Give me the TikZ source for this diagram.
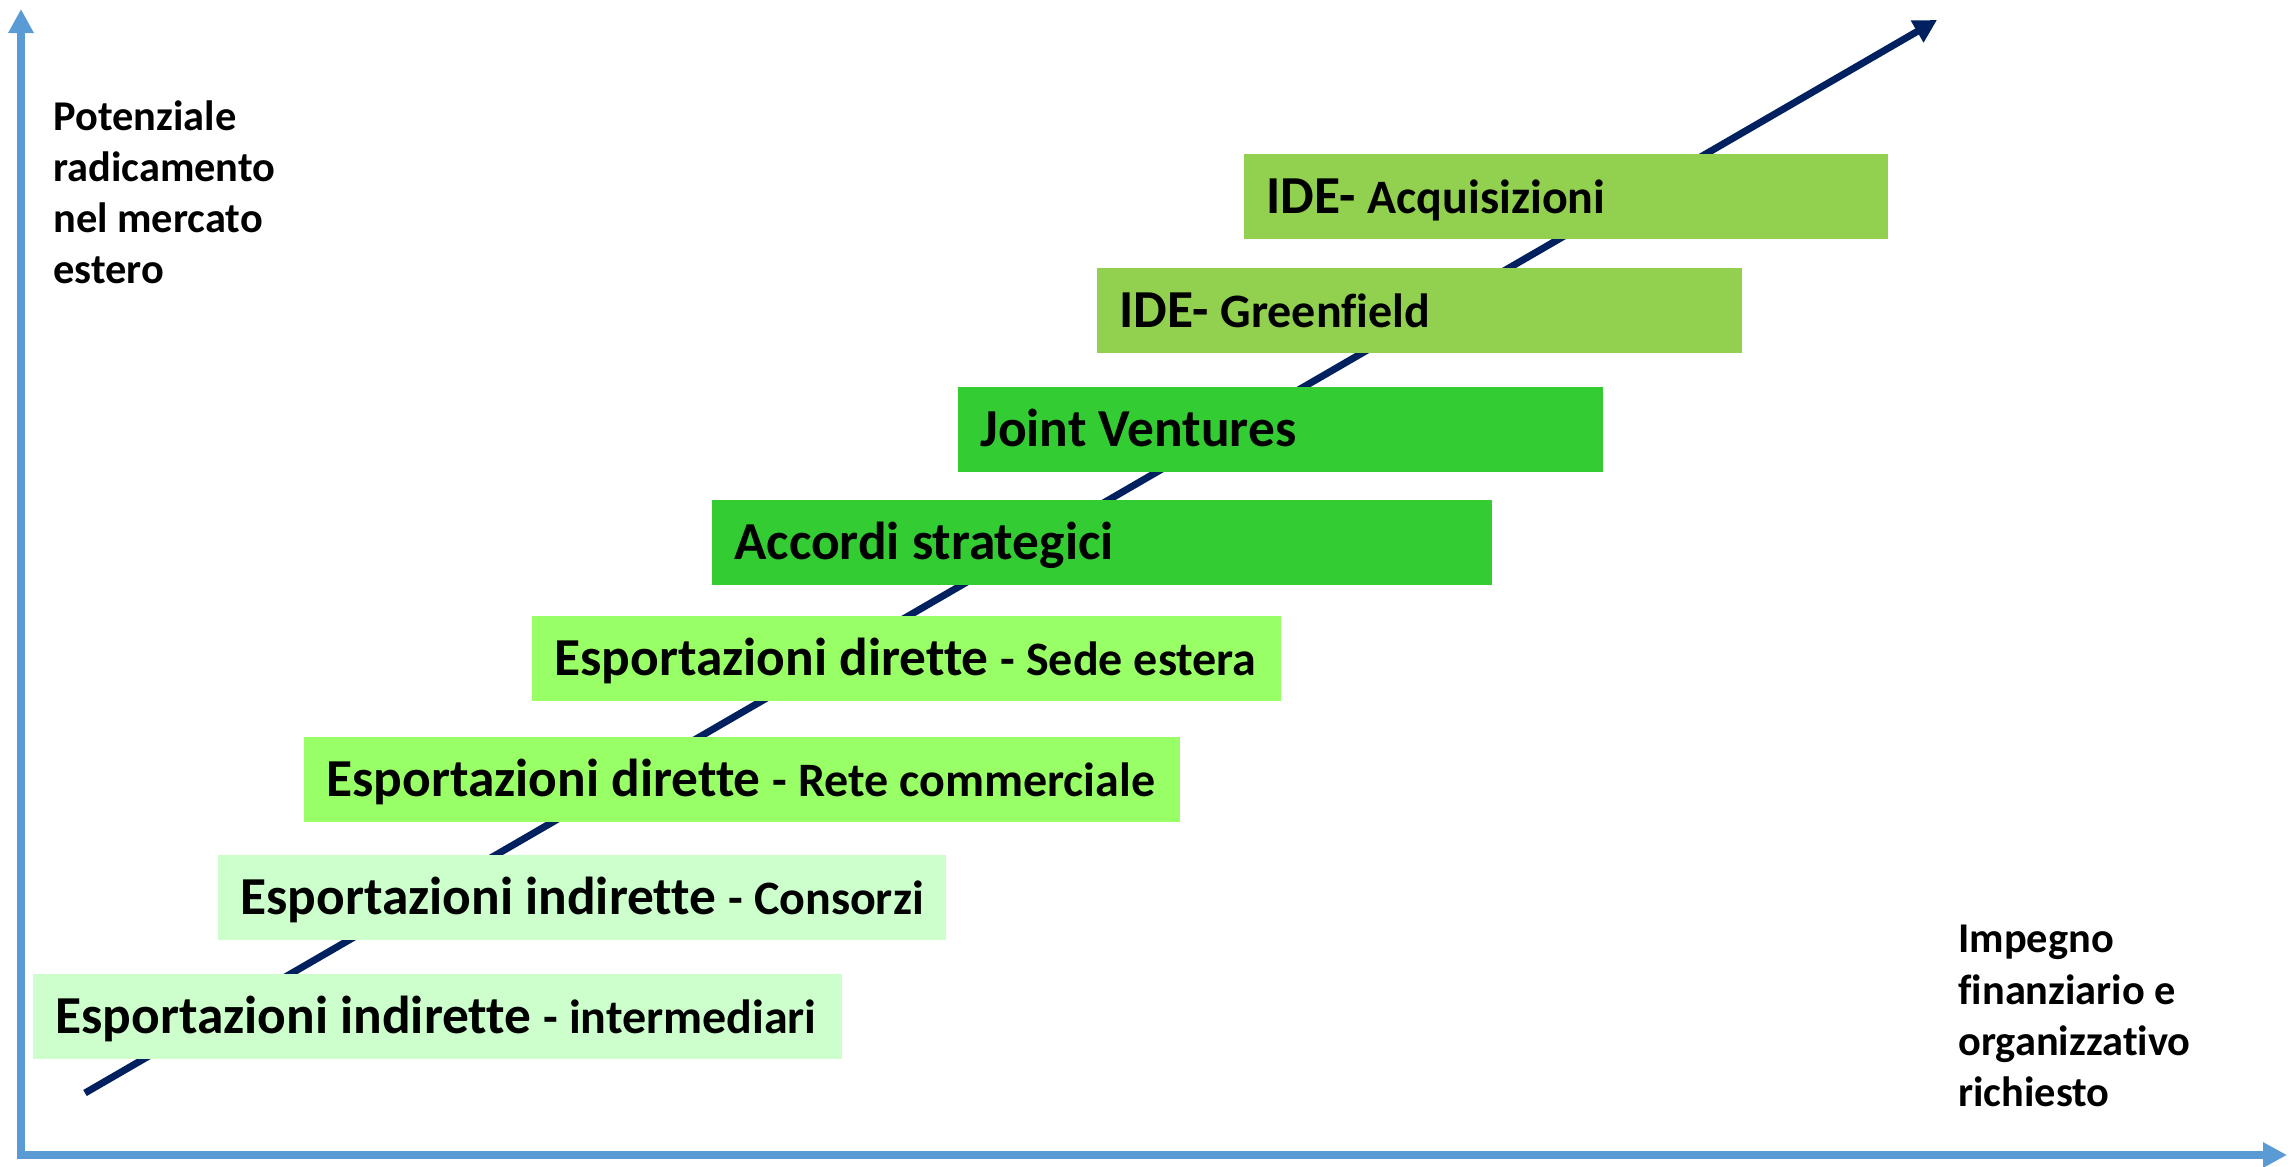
\documentclass[tikz,border=0pt]{standalone}
\usepackage{fontspec}
\setmainfont{Carlito}[Ligatures=NoCommon]
\usepackage{tikz}
\usetikzlibrary{positioning,arrows.meta}

\definecolor{axisblue}{HTML}{5B9BD5}
\definecolor{arrownavy}{HTML}{002060}
\definecolor{palegreen}{HTML}{CCFFCC}
\definecolor{limegreen}{HTML}{99FF66}
\definecolor{midgreen}{HTML}{33CC33}
\definecolor{olivegreen}{HTML}{92D050}

\newcommand{\sm}[1]{{\fontsize{24}{28}\selectfont #1}}

\begin{document}
\begin{tikzpicture}[x=0.5pt,y=-0.5pt,
    axis/.style={draw=axisblue,line width=4pt,-{Triangle[length=12pt,width=12pt]}},
    trend/.style={draw=arrownavy,line width=3.5pt,-{Triangle[length=11.5pt,width=12pt]}},
    stepbox/.style={rectangle,anchor=north west,inner xsep=11pt,inner ysep=0pt,
      minimum height=42.25pt,text height=17.2pt,text depth=0pt,align=left,
      execute at begin node={\spaceskip=0pt\xspaceskip=0pt},
      font=\bfseries\fontsize{26.7}{30}\selectfont},
    axislabel/.style={anchor=north west,inner sep=0pt,align=left,
      font=\bfseries\fontsize{21.2}{25.6}\selectfont}]
  \useasboundingbox (0,0) rectangle (2293,1167);
  % axes
  \coordinate (O) at (21,1155);
  \coordinate (ytop) at (21,9);
  \coordinate (xleft) at (17,1155);
  \coordinate (xtip) at (2287,1155);
  \draw[axis] (O) -- (ytop);
  \draw[axis] (xleft) -- (xtip);
  % rising arrow, under the boxes
  \coordinate (start) at (85,1093);
  \coordinate (end) at (1937,20);
  \draw[trend] (start) -- (end);
  % entry modes
  \node[stepbox,fill=palegreen,text width=382.5pt] (ei1) at (33,974)
    {\mbox{Esportazioni indirette \sm{- intermediari}}};
  \node[stepbox,fill=palegreen,text width=342pt] (ei2) at (218,855)
    {\mbox{Esportazioni indirette \sm{- Consorzi}}};
  \node[stepbox,fill=limegreen,text width=416pt] (ed1) at (304,737)
    {\mbox{Esportazioni dirette \sm{- Rete commerciale}}};
  \node[stepbox,fill=limegreen,text width=352.5pt] (ed2) at (532,616)
    {\mbox{Esportazioni dirette \sm{- Sede estera}}};
  \node[stepbox,fill=midgreen,text width=368pt] (as) at (712,500)
    {\mbox{Accordi strategici}};
  \node[stepbox,fill=midgreen,text width=300.5pt] (jv) at (958,387)
    {\mbox{Joint Ventures}};
  \node[stepbox,fill=olivegreen,text width=300.5pt] (ide1) at (1097,268)
    {\mbox{IDE- \sm{Greenfield}}};
  \node[stepbox,fill=olivegreen,text width=300pt] (ide2) at (1244,154)
    {\mbox{IDE- \sm{Acquisizioni}}};
  % axis titles
  \node[axislabel] (ylab) at (53,100)
    {Potenziale\\radicamento\\nel mercato\\estero};
  \node[axislabel] (xlab) at (1958,925)
    {Impegno\\finanziario e\\organizzativo\\richiesto};
\end{tikzpicture}
\end{document}
